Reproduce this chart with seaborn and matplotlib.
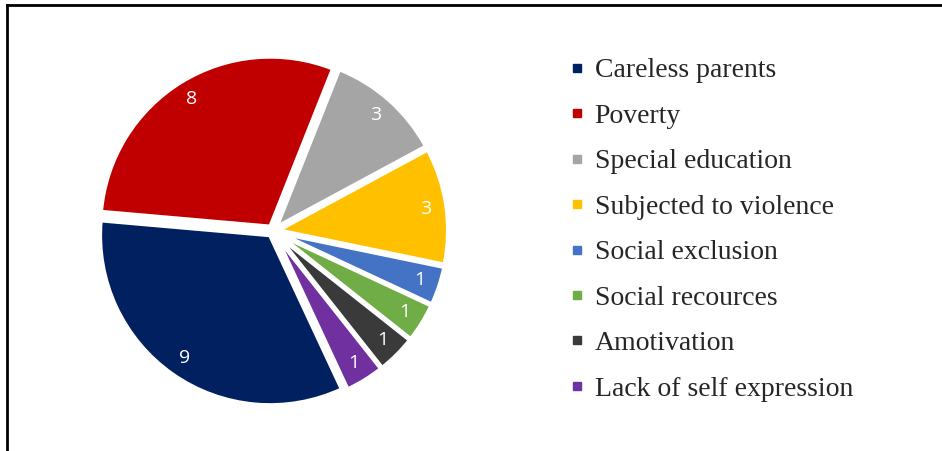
import matplotlib
matplotlib.use("Agg")
import matplotlib.pyplot as plt
from matplotlib.lines import Line2D
import seaborn as sns

categories = ["Careless parents", "Poverty", "Special education", "Subjected to violence",
              "Social exclusion", "Social recources", "Amotivation", "Lack of self expression"]
values = [9, 8, 3, 3, 1, 1, 1, 1]
colors = ["#002060", "#C00000", "#A5A5A5", "#FFC000", "#4472C4", "#70AD47", "#3A3A3A", "#7030A0"]

sns.set_theme(style="white")
plt.rcParams['font.family'] = ['Liberation Serif', 'DejaVu Serif']

W, H = 942, 451
fig = plt.figure(figsize=(W / 100, H / 100), dpi=100)
fig.patch.set_facecolor("white")

cx, cy, half = 273, 231, 176
ax = fig.add_axes([(cx - half) / W, (H - cy - half) / H, 2 * half / W, 2 * half / H])
total = sum(values)
wedges, _, autotexts = ax.pie(
    values, colors=colors, startangle=-65, counterclock=False,
    explode=[0.03] * len(values),
    wedgeprops=dict(edgecolor="white", linewidth=3),
    autopct=lambda p: f"{p * total / 100:.0f}", pctdistance=0.88,
    textprops=dict(color="white", fontsize=14, family=["Open Sans", "DejaVu Sans"]))
ax.set_xlim(-1.035, 1.035)
ax.set_ylim(-1.035, 1.035)
ax.set_aspect("equal")
ax.axis("off")

handles = [Line2D([0], [0], marker="s", linestyle="none", markersize=6,
                  markerfacecolor=c, markeredgecolor=c) for c in colors]
fig.legend(handles, categories, loc="upper left",
           bbox_to_anchor=(571 / W, 1 - 58 / H), bbox_transform=fig.transFigure,
           frameon=False, fontsize=20, handlelength=0.45, handletextpad=0.4,
           labelspacing=0.72, borderpad=0, borderaxespad=0)

fig.add_artist(Line2D([7 / W, 7 / W], [0, 1 - 5 / H], color="black", linewidth=2,
                      transform=fig.transFigure, solid_capstyle="projecting"))
fig.add_artist(Line2D([7 / W, 1.01], [1 - 5 / H, 1 - 5 / H], color="black", linewidth=2,
                      transform=fig.transFigure, solid_capstyle="projecting"))

fig.savefig("out.png", dpi=100)
